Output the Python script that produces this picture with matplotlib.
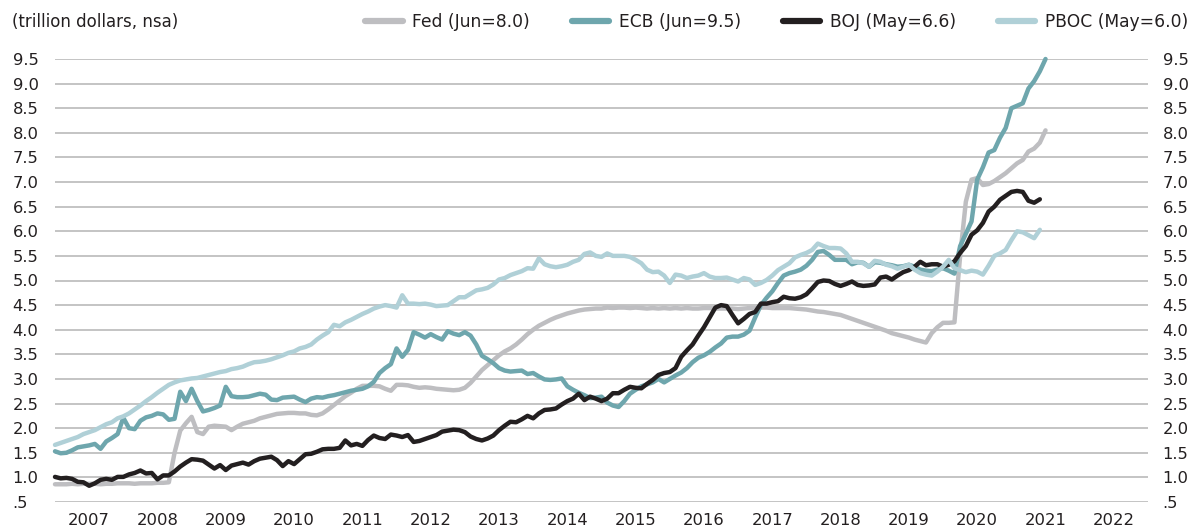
import numpy as np
import matplotlib
matplotlib.use("Agg")
import matplotlib.pyplot as plt

# ---------------- data (trillion dollars, month-end, starting Dec 2006) ----------------
start_year = 2007.0
fed = [
    0.86, 0.86, 0.86, 0.87, 0.86, 0.87, 0.87, 0.87, 0.86, 0.87, 0.87, 0.88, 0.88,
    0.88, 0.87, 0.88, 0.88, 0.88, 0.89, 0.89, 0.90, 1.50, 1.95, 2.10, 2.23,
    1.92, 1.88, 2.03, 2.05, 2.04, 2.03, 1.96, 2.03, 2.09, 2.12, 2.15, 2.20,
    2.23, 2.26, 2.29, 2.30, 2.31, 2.31, 2.30, 2.30, 2.27, 2.26, 2.30, 2.38,
    2.47, 2.56, 2.65, 2.72, 2.80, 2.86, 2.86, 2.86, 2.85, 2.80, 2.76, 2.88,
    2.88, 2.87, 2.84, 2.82, 2.83, 2.82, 2.80, 2.79, 2.78, 2.77, 2.78, 2.82,
    2.92, 3.05, 3.18, 3.28, 3.38, 3.48, 3.56, 3.62, 3.70, 3.80, 3.91, 4.00,
    4.08, 4.14, 4.20, 4.25, 4.29, 4.33, 4.36, 4.39, 4.41, 4.42, 4.43, 4.43,
    4.45, 4.44, 4.45, 4.45, 4.44, 4.45, 4.44, 4.43, 4.44, 4.43, 4.44, 4.43,
    4.44, 4.43, 4.44, 4.43, 4.43, 4.44, 4.44, 4.43, 4.43, 4.43, 4.43, 4.42,
    4.43, 4.44, 4.44, 4.45, 4.45, 4.44, 4.44, 4.44, 4.44, 4.43, 4.42, 4.41,
    4.39, 4.37, 4.36, 4.34, 4.32, 4.30, 4.26, 4.22, 4.18, 4.14, 4.10, 4.06,
    4.02, 3.98, 3.93, 3.90, 3.87, 3.84, 3.80, 3.77, 3.74, 3.93, 4.05, 4.14,
    4.14, 4.15, 5.50, 6.60, 7.05, 7.08, 6.94, 6.96, 7.02, 7.10, 7.18, 7.28,
    7.38, 7.45, 7.62, 7.68, 7.80, 8.05,
]
ecb = [
    1.53, 1.49, 1.50, 1.55, 1.61, 1.63, 1.65, 1.68, 1.58, 1.73, 1.80, 1.88, 2.21,
    2.00, 1.98, 2.15, 2.22, 2.25, 2.30, 2.28, 2.17, 2.19, 2.74, 2.55, 2.80,
    2.55, 2.34, 2.37, 2.41, 2.46, 2.84, 2.65, 2.63, 2.63, 2.64, 2.67, 2.70,
    2.68, 2.58, 2.57, 2.62, 2.63, 2.64, 2.58, 2.53, 2.60, 2.63, 2.62, 2.65,
    2.67, 2.70, 2.73, 2.76, 2.78, 2.80, 2.85, 2.94, 3.12, 3.22, 3.30, 3.62,
    3.45, 3.59, 3.95, 3.90, 3.84, 3.91, 3.85, 3.80, 3.97, 3.92, 3.89, 3.95,
    3.88, 3.70, 3.47, 3.40, 3.32, 3.22, 3.17, 3.15, 3.16, 3.17, 3.10, 3.12,
    3.05, 2.99, 2.98, 2.99, 3.01, 2.85, 2.78, 2.72, 2.67, 2.61, 2.62, 2.64,
    2.52, 2.46, 2.43, 2.55, 2.70, 2.78, 2.85, 2.89, 2.93, 3.00, 2.93, 3.00,
    3.07, 3.13, 3.22, 3.34, 3.43, 3.48, 3.55, 3.64, 3.72, 3.84, 3.86, 3.86,
    3.90, 3.98, 4.25, 4.50, 4.65, 4.78, 4.95, 5.10, 5.15, 5.18, 5.22, 5.30,
    5.42, 5.58, 5.60, 5.52, 5.42, 5.42, 5.42, 5.33, 5.37, 5.36, 5.28, 5.37,
    5.36, 5.33, 5.31, 5.28, 5.29, 5.32, 5.28, 5.22, 5.20, 5.19, 5.22, 5.25,
    5.20, 5.14, 5.70, 5.95, 6.20, 7.05, 7.30, 7.60, 7.65, 7.90, 8.10, 8.50,
    8.55, 8.60, 8.90, 9.05, 9.25, 9.50,
]
boj = [
    1.01, 0.98, 0.99, 0.97, 0.91, 0.90, 0.83, 0.88, 0.95, 0.97, 0.95, 1.01, 1.01,
    1.06, 1.09, 1.14, 1.08, 1.09, 0.96, 1.04, 1.04, 1.12, 1.22, 1.30, 1.37,
    1.36, 1.34, 1.26, 1.18, 1.25, 1.15, 1.24, 1.27, 1.30, 1.26, 1.33, 1.38,
    1.40, 1.42, 1.35, 1.23, 1.33, 1.27, 1.37, 1.47, 1.48, 1.52, 1.57, 1.58,
    1.58, 1.60, 1.75, 1.65, 1.68, 1.64, 1.76, 1.85, 1.80, 1.78, 1.87, 1.85,
    1.82, 1.86, 1.72, 1.74, 1.78, 1.82, 1.86, 1.93, 1.95, 1.97, 1.96, 1.92,
    1.83, 1.78, 1.75, 1.79, 1.85, 1.96, 2.05, 2.13, 2.12, 2.18, 2.25, 2.20,
    2.30, 2.37, 2.38, 2.40, 2.48, 2.55, 2.60, 2.70, 2.57, 2.64, 2.60, 2.55,
    2.60, 2.71, 2.71, 2.78, 2.84, 2.82, 2.81, 2.90, 2.98, 3.08, 3.12, 3.14,
    3.22, 3.45, 3.58, 3.70, 3.88, 4.05, 4.25, 4.45, 4.50, 4.48, 4.30, 4.13,
    4.22, 4.32, 4.36, 4.53, 4.53, 4.56, 4.58, 4.67, 4.64, 4.63, 4.66, 4.72,
    4.84, 4.97, 5.00, 4.99, 4.93, 4.89, 4.93, 4.98, 4.91, 4.89, 4.90, 4.92,
    5.06, 5.08, 5.02, 5.10, 5.17, 5.21, 5.28, 5.38, 5.31, 5.33, 5.33, 5.28,
    5.32, 5.39, 5.56, 5.70, 5.93, 6.02, 6.17, 6.40, 6.50, 6.64, 6.72, 6.80,
    6.82, 6.80, 6.62, 6.58, 6.65,
]
pboc = [
    1.66, 1.70, 1.74, 1.78, 1.82, 1.88, 1.92, 1.96, 2.02, 2.08, 2.12, 2.20, 2.24,
    2.30, 2.38, 2.46, 2.55, 2.63, 2.72, 2.80, 2.88, 2.93, 2.97, 2.99, 3.01,
    3.02, 3.05, 3.08, 3.11, 3.14, 3.16, 3.20, 3.22, 3.25, 3.30, 3.34, 3.35,
    3.37, 3.40, 3.44, 3.48, 3.53, 3.56, 3.62, 3.65, 3.70, 3.80, 3.88, 3.95,
    4.10, 4.07, 4.15, 4.20, 4.26, 4.32, 4.37, 4.43, 4.47, 4.50, 4.48, 4.45,
    4.70, 4.53, 4.53, 4.52, 4.53, 4.51, 4.48, 4.49, 4.50, 4.58, 4.66, 4.66,
    4.73, 4.80, 4.82, 4.85, 4.92, 5.02, 5.05, 5.11, 5.15, 5.19, 5.25, 5.24,
    5.45, 5.33, 5.29, 5.27, 5.29, 5.32, 5.38, 5.42, 5.54, 5.57, 5.50, 5.48,
    5.55, 5.50, 5.50, 5.50, 5.48, 5.42, 5.35, 5.22, 5.17, 5.18, 5.10, 4.95,
    5.12, 5.10, 5.05, 5.08, 5.10, 5.15, 5.08, 5.05, 5.05, 5.06, 5.02, 4.98,
    5.05, 5.02, 4.91, 4.95, 5.01, 5.10, 5.21, 5.28, 5.35, 5.47, 5.52, 5.56,
    5.62, 5.75, 5.70, 5.66, 5.66, 5.65, 5.55, 5.38, 5.38, 5.35, 5.28, 5.40,
    5.38, 5.32, 5.29, 5.24, 5.28, 5.32, 5.22, 5.15, 5.12, 5.10, 5.18, 5.28,
    5.42, 5.25, 5.21, 5.17, 5.20, 5.18, 5.12, 5.30, 5.50, 5.55, 5.62, 5.82,
    6.00, 5.98, 5.92, 5.86, 6.03,
]

series_labels = ["Fed (Jun=8.0)", "ECB (Jun=9.5)", "BOJ (May=6.6)", "PBOC (May=6.0)"]
series_colors = ["#bebec1", "#6ea6ad", "#231f20", "#b0d0d7"]
year_labels = [str(y) for y in range(2007, 2023)]
ytick_vals = [0.5 + 0.5 * k for k in range(19)]
ytick_labels = [".5"] + [f"{v:.1f}" for v in ytick_vals[1:]]
unit_label = "(trillion dollars, nsa)"

# ---------------- figure ----------------
plt.rcParams["font.family"] = ["DejaVu Sans"]
W, H = 1194, 529
fig = plt.figure(figsize=(W / 100, H / 100), dpi=100)
L, R, B, T = 55, 1148, 502, 59
ax = fig.add_axes([L / W, 1 - B / H, (R - L) / W, (B - T) / H])

for vals, lab, col in zip([fed, ecb, boj, pboc], series_labels, series_colors):
    t = start_year + np.arange(len(vals)) / 12.0
    ax.plot(t, vals, color=col, lw=3.2, label=lab, solid_joinstyle="round",
            solid_capstyle="round", clip_on=False)

ax.set_xlim(2007.0, 2023.0)
ax.set_ylim(0.5, 9.5)
for s in ax.spines.values():
    s.set_visible(False)

ax.set_yticks(ytick_vals)
ax.set_yticklabels(ytick_labels, ha="left", fontsize=11.8, color="#231f20")
ax.tick_params(axis="y", length=0, pad=30.5)
ax.yaxis.grid(True, color="#b4b4b4", lw=1.1)
ax.set_axisbelow(True)

ax.set_xticks([y + 0.5 for y in range(2007, 2023)])
ax.set_xticklabels(year_labels, fontsize=11.8, color="#231f20")
ax.tick_params(axis="x", length=0, pad=8)

ax2 = ax.twinx()
ax2.set_ylim(0.5, 9.5)
ax2.set_yticks(ytick_vals)
ax2.set_yticklabels(ytick_labels, fontsize=11.8, color="#231f20")
ax2.tick_params(axis="y", length=0, pad=10.5)
for s in ax2.spines.values():
    s.set_visible(False)

fig.text(12 / W, 1 - 22 / H, unit_label, ha="left", va="center",
         fontsize=12, color="#231f20")

handles, labels = ax.get_legend_handles_labels()
leg = fig.legend(handles, labels, loc="center right", ncol=4,
                 bbox_to_anchor=(1188 / W, 1 - 22 / H), frameon=False,
                 fontsize=12.3, handlelength=2.2, handletextpad=0.55,
                 columnspacing=2.45, borderaxespad=0, borderpad=0)
for line in leg.get_lines():
    line.set_linewidth(4.5)
for txt in leg.get_texts():
    txt.set_color("#231f20")

fig.savefig("out.png", dpi=100)
